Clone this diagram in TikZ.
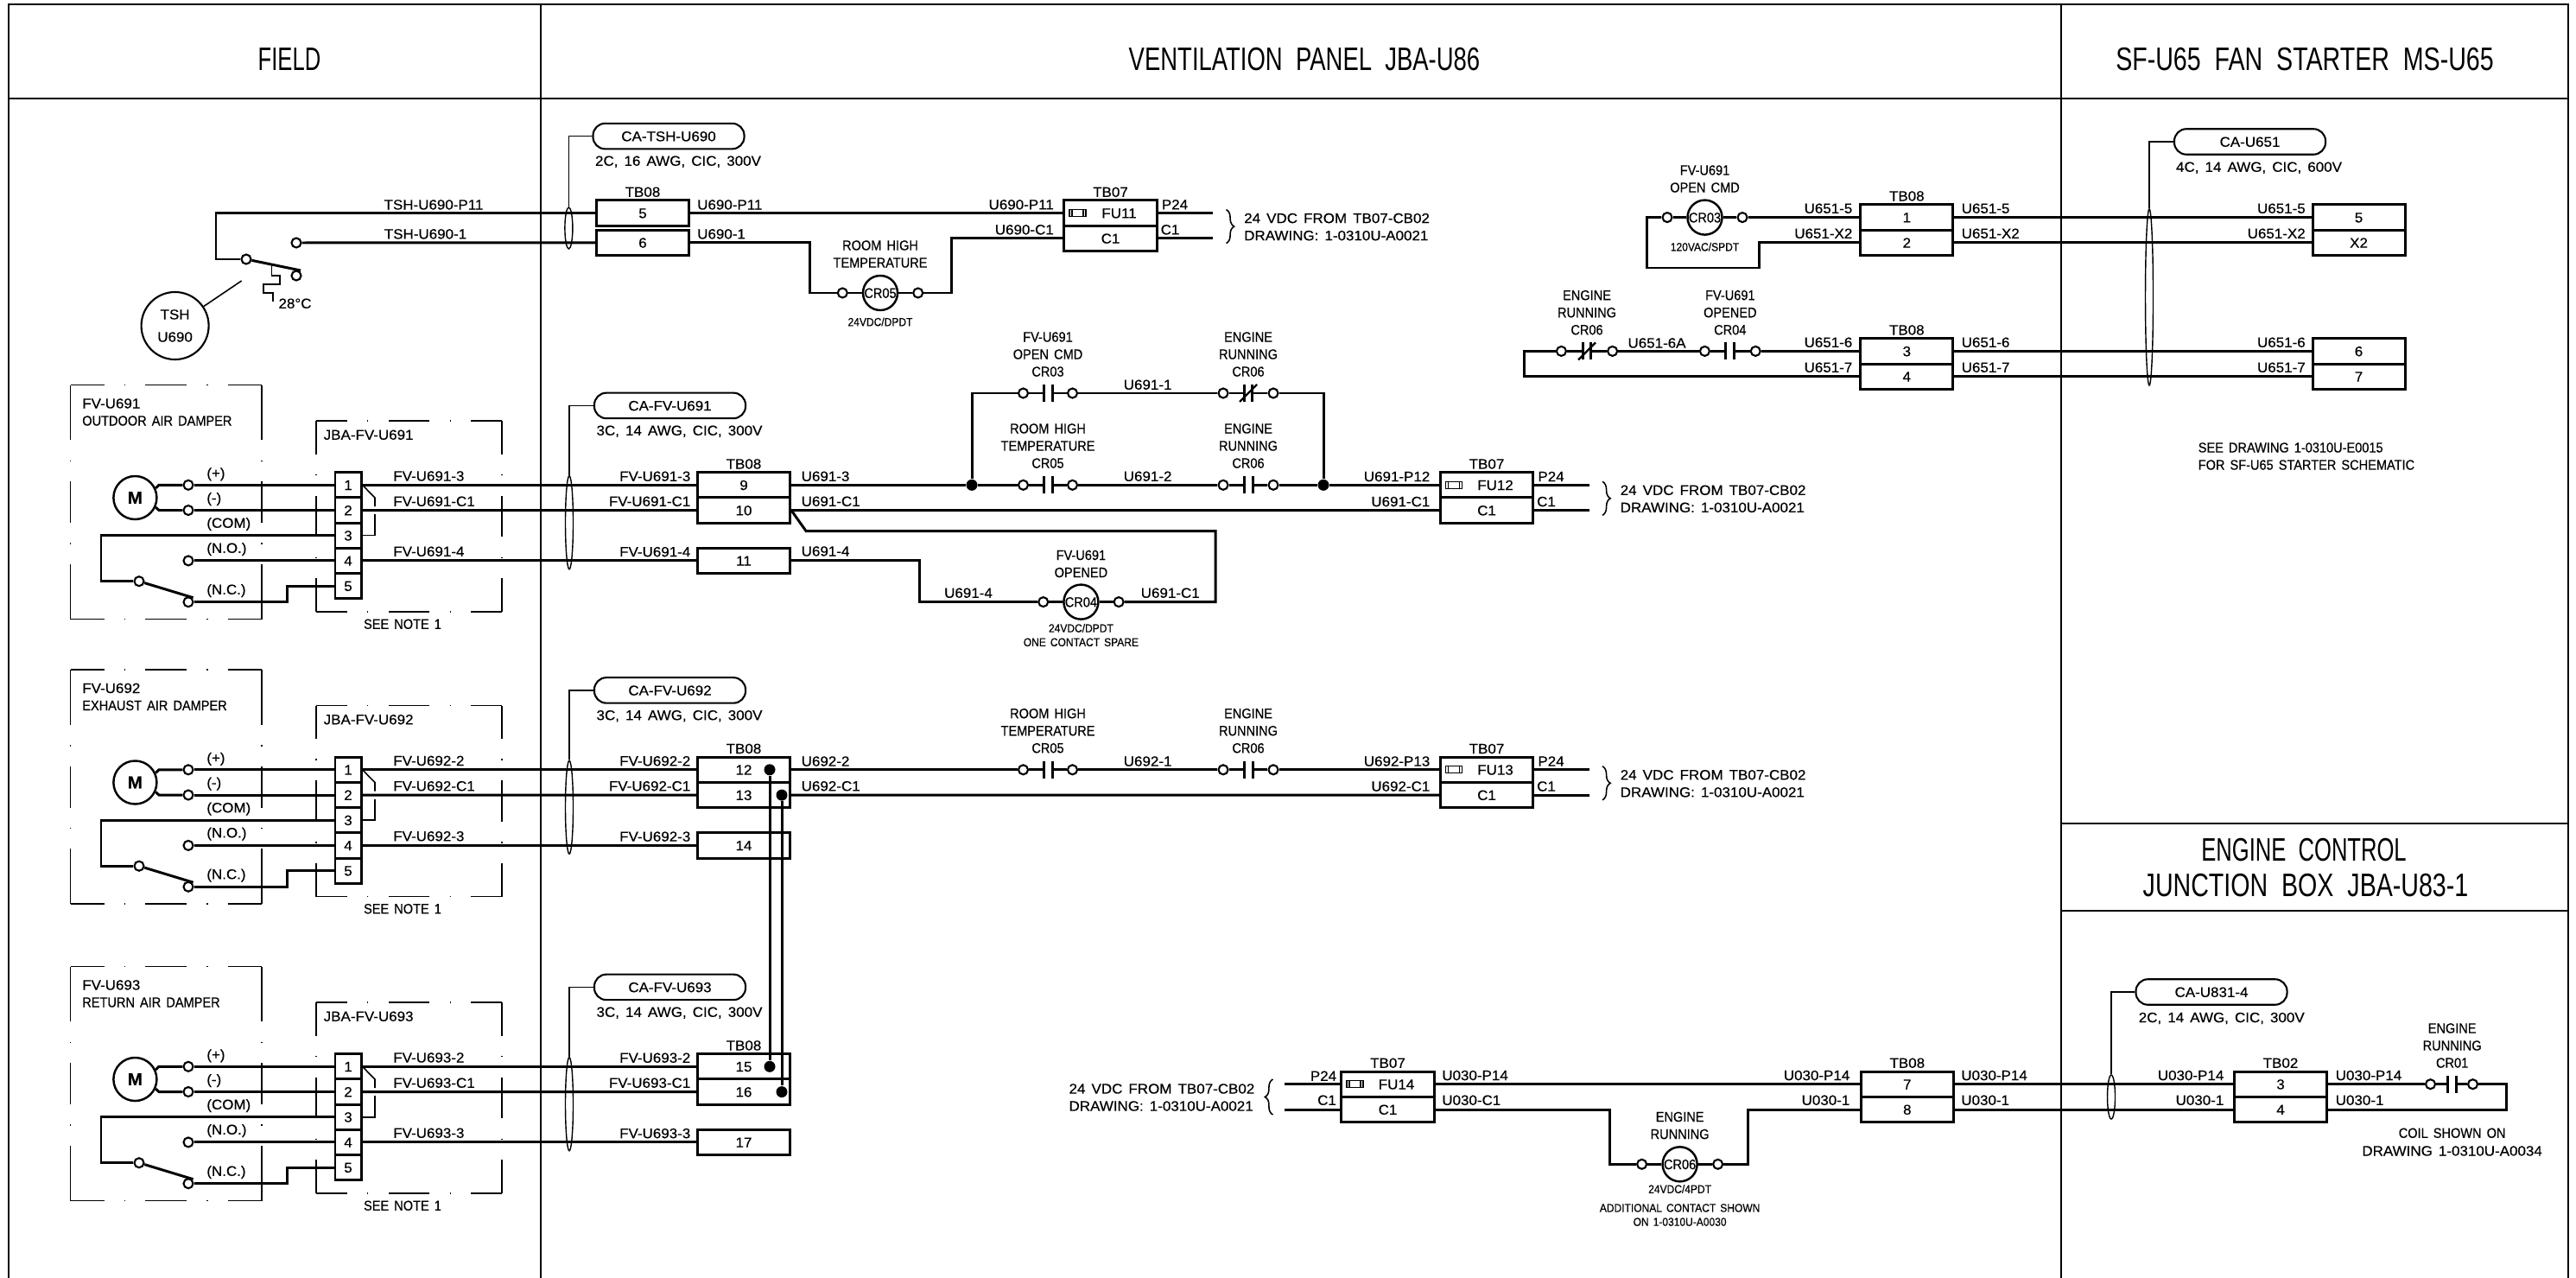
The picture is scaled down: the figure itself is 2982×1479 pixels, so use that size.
\documentclass[tikz,border=0pt]{standalone}
\usepackage{fontspec}
\setmainfont[FakeStretch=1.05,WordSpace=1.5,FakeBold=0.4]{Liberation Sans}
\newfontfamily\wordfont[FakeStretch=0.9,WordSpace=1.5,FakeBold=0.4]{Liberation Sans}
\newfontfamily\headfont[FakeStretch=0.76,WordSpace=2]{Liberation Sans}
\newfontfamily\headmid[FakeStretch=0.73,WordSpace=2]{Liberation Sans}
\newfontfamily\headnarrow[FakeStretch=0.68,WordSpace=2]{Liberation Sans}
\usepackage{tikz}
\usetikzlibrary{shapes.geometric, decorations.pathreplacing}

\tikzset{
  frame/.style={line width=0.7pt},
  wire/.style={line width=0.85pt},
  thinwire/.style={line width=0.45pt},
  head/.style={font=\headfont\fontsize{10.7}{11.6}\selectfont, inner sep=0pt, align=center},
  headm/.style={font=\headmid\fontsize{10.7}{11.6}\selectfont, inner sep=0pt, align=center},
  headn/.style={font=\headnarrow\fontsize{10.7}{11.6}\selectfont, inner sep=0pt, align=center},
  lab/.style={font=\fontsize{4.6}{5.7}\selectfont, inner sep=0pt, text height=3.3pt, text depth=0pt},
  wlab/.style={font=\wordfont\fontsize{4.6}{5.7}\selectfont, inner sep=0pt, text height=3.3pt, text depth=0pt},
  multi/.style={font=\fontsize{4.6}{5.7}\selectfont, inner sep=0pt, align=left},
  wmulti/.style={font=\wordfont\fontsize{4.6}{5.7}\selectfont, inner sep=0pt, align=center},
  smulti/.style={font=\wordfont\fontsize{3.8}{4.6}\selectfont, inner sep=0pt, align=center},
  term/.style={circle, draw, fill=white, line width=0.6pt, minimum size=0.11cm, inner sep=0pt},
  jdot/.style={circle, fill=black, minimum size=0.13cm, inner sep=0pt},
  coilnode/.style={circle, draw, line width=0.7pt, minimum size=0.4cm, inner sep=0pt,
    font=\wordfont\fontsize{4.6}{5.7}\selectfont, text height=3.3pt, text depth=0pt},
  motor/.style={circle, draw, line width=0.7pt, minimum size=0.5cm, inner sep=0pt,
    font=\bfseries\fontsize{5.6}{6}\selectfont},
  bubble/.style={circle, draw, line width=0.6pt, minimum size=0.78cm, inner sep=0pt, align=center,
    font=\fontsize{4.6}{7.4}\selectfont},
  tbbox/.style={rectangle, draw, line width=0.85pt, minimum width=1.07cm, minimum height=0.293cm, inner sep=0pt,
    font=\fontsize{4.6}{5.7}\selectfont, text height=3.3pt, text depth=0pt},
  pinbox/.style={rectangle, draw, line width=0.85pt, minimum width=0.3cm, minimum height=0.292cm, inner sep=0pt,
    font=\fontsize{4.6}{5.7}\selectfont, text height=3.3pt, text depth=0pt},
  fusemark/.style={rectangle, draw, line width=0.35pt, minimum width=0.19cm, minimum height=0.08cm, inner sep=0pt,
    path picture={
      \draw[line width=0.35pt] ([xshift=0.03cm]path picture bounding box.north west) -- ([xshift=0.03cm]path picture bounding box.south west)
        ([xshift=-0.03cm]path picture bounding box.north east) -- ([xshift=-0.03cm]path picture bounding box.south east);}},
  tagnode/.style={rectangle, draw, rounded corners=0.14cm, line width=0.6pt, minimum width=1.75cm, minimum height=0.295cm,
    inner sep=0pt, font=\fontsize{4.6}{5.7}\selectfont, text height=3.3pt, text depth=0pt},
  bundle/.style={ellipse, draw, line width=0.4pt, minimum width=0.09cm, inner sep=0pt},
  phantom/.style={line width=0.42pt, line cap=square, dash pattern=on 6.8pt off 6.6pt on 0.4pt off 6.6pt on 30pt off 30pt},
  bracemark/.style={line width=0.45pt, decorate, decoration={brace, amplitude=2.6pt}},
}

% normally open contact: name, x, y, half gap
\newcommand{\contactno}[4]{
  \begin{scope}[shift={(#2,#3)}]
    \node[term] (#1-l) at (-#4,0) {};
    \node[term] (#1-r) at (#4,0) {};
    \draw[wire] (#1-l) -- (-5,0) (5,0) -- (#1-r);
    \draw[wire] (-5,-10) -- (-5,10) (5,-10) -- (5,10);
  \end{scope}
}
% normally closed contact: name, x, y, half gap
\newcommand{\contactnc}[4]{
  \begin{scope}[shift={(#2,#3)}]
    \node[term] (#1-l) at (-#4,0) {};
    \node[term] (#1-r) at (#4,0) {};
    \draw[wire] (#1-l) -- (-4.5,0) (4.5,0) -- (#1-r);
    \draw[wire] (-4.5,-10) -- (-4.5,10) (4.5,-10) -- (4.5,10);
    \draw[line width=0.65pt] (-10,10) -- (10,-10);
  \end{scope}
}
% relay coil: name, x, y, text, half gap
\newcommand{\relaycoil}[5]{
  \begin{scope}[shift={(#2,#3)}]
    \node[coilnode] (#1) at (0,0) {#4};
    \node[term] (#1-l) at (-#5,0) {};
    \node[term] (#1-r) at (#5,0) {};
    \draw[wire] (#1-l) -- (#1) -- (#1-r);
  \end{scope}
}
% box in long dash, dot line, drawn from the middle of each side
\newcommand{\phantombox}[4]{
  \draw[phantom] ({(#1+#3)/2},#2) -- (#1,#2) ({(#1+#3)/2},#2) -- (#3,#2)
    ({(#1+#3)/2},#4) -- (#1,#4) ({(#1+#3)/2},#4) -- (#3,#4)
    (#1,{(#2+#4)/2}) -- (#1,#2) (#1,{(#2+#4)/2}) -- (#1,#4)
    (#3,{(#2+#4)/2}) -- (#3,#2) (#3,{(#2+#4)/2}) -- (#3,#4);
}

\begin{document}
\begin{tikzpicture}[x=0.01cm, y=-0.01cm]
  \useasboundingbox (0,0) rectangle (2982,1479);

  % Frame
  \draw[frame] (10,1479) -- (10,5) -- (2973,5) -- (2973,1479);
  \draw[frame] (10,114) -- (2973,114);
  \draw[frame] (626,5) -- (626,1479);
  \draw[frame] (2386,5) -- (2386,1479);
  \draw[frame] (2386,953) -- (2973,953);
  \draw[frame] (2386,1054) -- (2973,1054);

  % Headers
  \node[headn] (h-field) at (335,69) {FIELD};
  \node[headm] (h-panel) at (1510,69) {VENTILATION PANEL JBA-U86};
  \node[head] (h-fan) at (2668,69) {SF-U65 FAN STARTER MS-U65};
  \node[headn] (h-eng) at (2667,984) {ENGINE CONTROL};
  \node[head] (h-jb) at (2669,1025) {JUNCTION BOX JBA-U83-1};

  % Temperature switch
  \node[bubble] (tsh) at (202.6,377) {TSH\\U690};
  \node[term] (tsh-com) at (285,300) {};
  \node[term] (tsh-no) at (343,281) {};
  \node[term] (tsh-nc) at (343,319) {};
  \coordinate (tsh-blade) at (348,313);
  \node[lab] (tsh-deg) at (341.5,351) {28°C};
  \draw[wire] (tsh-com) -- (tsh-blade);
  \draw[thinwire] (tsh) -- (279.6,325);
  \draw[thinwire] (314.6,306) -- (314.6,319) -- (324,319) -- (324,329) -- (305,329) -- (305,339) -- (316,339) -- (316,348.6);

  % Cable TSH
  \node[tagnode] (ca-tsh) at (774,157.6) {CA-TSH-U690};
  \node[lab] (ca-tsh-t) at (785,186) {2C, 16 AWG, CIC, 300V};
  \node[bundle, minimum height=0.48cm] (el-tsh) at (658.4,264) {};
  \draw[thinwire] (ca-tsh.west) -| (el-tsh.north);

  \node[tbbox] (tb5) at (744,246.6) {5};
  \node[tbbox] (tb6) at (744,280.8) {6};
  \node[lab] (tb5-t) at (744,222) {TB08};
  \node[lab] (w-p11) at (502,236.7) {TSH-U690-P11};
  \node[lab] (w-1) at (492.5,270.6) {TSH-U690-1};
  \node[lab, anchor=west] (w-up11) at (806.5,236.7) {U690-P11};
  \node[lab, anchor=west] (w-u1) at (806.5,270.6) {U690-1};
  \draw[wire] (tb5.west) -- (250,246.6) |- (tsh-com);
  \draw[wire] (tsh-no) -- (tb6.west);

  % Room high temperature relay
  \relaycoil{cr05}{1019}{339}{CR05}{43.7}
  \node[wmulti] (cr05-t) at (1019,294) {ROOM HIGH\\TEMPERATURE};
  \node[smulti] (cr05-s) at (1019,372.5) {24VDC/DPDT};

  % Fuse blocks
  \foreach \f/\fx/\fy/\la/\lb in {11/1285.5/246.6/U690-P11/U690-C1,
      12/1721/561.3/U691-P12/U691-C1, 13/1721/890.8/U692-P13/U692-C1}{
    \begin{scope}[shift={(\fx,\fy)}]
      \node[tbbox] (fu\f) at (0,0) {\hspace*{0.2cm}FU\f};
      \node[tbbox] (cc\f) at (0,29.3) {C1};
      \node[fusemark] (fm\f) at (-38,0) {};
      \node[lab] (tb07-\f) at (0,-24.5) {TB07};
      \node[lab, anchor=east] (la\f) at (-65,-10) {\la};
      \node[lab, anchor=east] (lb\f) at (-65,19) {\lb};
      \node[lab] (pp\f) at (74.5,-10) {P24};
      \node[lab] (pc\f) at (69,19) {C1};
      \coordinate (end-p\f) at (118.5,0);
      \coordinate (end-c\f) at (118.5,29.3);
      \draw[wire] (fu\f.east) -- (end-p\f);
      \draw[wire] (cc\f.east) -- (end-c\f);
      \draw[bracemark] (134,-4) -- (134,35);
      \node[multi, anchor=west] (src\f) at (154,16) {24 VDC FROM TB07-CB02\\DRAWING: 1-0310U-A0021};
    \end{scope}
  }
  \draw[wire] (tb5.east) -- (fu11.west);
  \draw[wire] (tb6.east) -- (937,280.8) |- (cr05-l);
  \draw[wire] (cr05-r) -- (1101.5,339) |- (cc11.west);

  % Dampers
  \foreach \n/\dy/\dname/\wa/\wb/\ta/\tb/\tc in {
      U691/0/OUTDOOR AIR DAMPER/3/4/9/10/11,
      U692/329.5/EXHAUST AIR DAMPER/2/3/12/13/14,
      U693/673/RETURN AIR DAMPER/2/3/15/16/17}{
    \begin{scope}[shift={(0,\dy)}]
      \phantombox{81.5}{445.7}{303}{716.7}
      \phantombox{366}{487}{581}{708}
      \node[lab, anchor=west] (fv\n) at (94.6,466.7) {FV-\n};
      \node[wlab, anchor=west] (dn\n) at (94.6,486.7) {\dname};
      \node[lab, anchor=west] (jba\n) at (374,503) {JBA-FV-\n};
      \node[wlab] (note\n) at (466,722) {SEE NOTE 1};

      % Actuator
      \node[motor] (m\n) at (156.4,576) {M};
      \node[term] (tp\n) at (218,561.3) {};
      \node[term] (tm\n) at (218,590.5) {};
      \node[term] (tno\n) at (218,648.9) {};
      \node[term] (tnc\n) at (218,696.7) {};
      \node[term] (sw\n) at (161,672.7) {};
      \coordinate (bl\n) at (223.6,691.7);
      \node[lab, anchor=west] (lp\n) at (238.6,547.3) {(+)};
      \node[lab, anchor=west] (lm\n) at (238.6,576) {(-)};
      \node[lab, anchor=west] (lc\n) at (238.6,605) {(COM)};
      \node[lab, anchor=west] (lo\n) at (238.6,634) {(N.O.)};
      \node[lab, anchor=west] (ln\n) at (238.6,682) {(N.C.)};

      % Junction box terminals
      \foreach \p in {1,...,5}
        \node[pinbox] (jb\n-\p) at (403,{561.3+29.2*(\p-1)}) {\p};

      % Terminals on TB08
      \node[tbbox] (tb\ta) at (861,561.3) {\ta};
      \node[tbbox] (tb\tb) at (861,590.6) {\tb};
      \node[tbbox] (tb\tc) at (861,648.9) {\tc};
      \node[lab] (tb08\n) at (861,536.7) {TB08};

      % Cable
      \node[tagnode] (ca\n) at (775.5,469.4) {CA-FV-\n};
      \node[lab] (cat\n) at (786.5,498) {3C, 14 AWG, CIC, 300V};
      \node[bundle, minimum height=1.08cm] (el\n) at (659,604.7) {};
      \draw[thinwire] (ca\n.west) -| (el\n.north);

      % Wires
      \draw[wire] (m\n.25) -- (184,561.3) -- (tp\n);
      \draw[wire] (m\n.-25) -- (184,590.5) -- (tm\n);
      \draw[wire] (tp\n) -- (jb\n-1.west);
      \draw[wire] (tm\n) -- (jb\n-2.west);
      \draw[wire] (tno\n) -- (jb\n-4.west);
      \draw[wire] (jb\n-3.west) -- (117,619.7) |- (sw\n);
      \draw[wire] (sw\n) -- (bl\n);
      \draw[wire] (tnc\n) -- (332.5,696.7) |- (jb\n-5.west);
      \draw[wire] (jb\n-1.east) -- (tb\ta.west);
      \draw[wire] (jb\n-2.east) -- (tb\tb.west);
      \draw[wire] (jb\n-4.east) -- (tb\tc.west);
      \draw[thinwire] (jb\n-1.east) -- (434,576) -- (434,586);
      \draw[thinwire] (434,595) |- (jb\n-3.east);

      \node[lab, anchor=west] (wa\n) at (454.6,550.7) {FV-\n-\wa};
      \node[lab, anchor=west] (wb\n) at (454.6,580) {FV-\n-C1};
      \node[lab, anchor=west] (wc\n) at (454.6,638) {FV-\n-\wb};
      \node[lab, anchor=east] (ra\n) at (800,551) {FV-\n-\wa};
      \node[lab, anchor=east] (rb\n) at (800,580) {FV-\n-C1};
      \node[lab, anchor=east] (rc\n) at (800,638.4) {FV-\n-\wb};
    \end{scope}
  }

  % U691 control
  \node[jdot] (j1) at (1125,561.3) {};
  \node[jdot] (j2) at (1532,561.3) {};
  \contactno{cr03a}{1213}{455}{28.5}
  \contactnc{cr06a}{1445}{455}{29}
  \contactno{cr05a}{1213}{561.3}{28.5}
  \contactno{cr06b}{1445}{561.3}{29}
  \relaycoil{cr04}{1251.4}{696.6}{CR04}{43.7}
  \draw[wire] (tb9.east) -- (j1) -- (cr05a-l);
  \draw[wire] (cr05a-r) -- (cr06b-l);
  \draw[wire] (cr06b-r) -- (j2) -- (fu12.west);
  \draw[wire] (j1) |- (cr03a-l);
  \draw[wire] (cr03a-r) -- (cr06a-l);
  \draw[wire] (cr06a-r) -| (j2);
  \draw[wire] (tb10.east) -- (cc12.west);
  \draw[wire] (tb10.east) -- (933,614.5) -- (1407,614.5) |- (cr04-r);
  \draw[wire] (tb11.east) -- (1064,648.9) |- (cr04-l);
  \node[wmulti] (t-cr03a) at (1213,410) {FV-U691\\OPEN CMD\\CR03};
  \node[wmulti] (t-cr06a) at (1445,410) {ENGINE\\RUNNING\\CR06};
  \node[wmulti] (t-cr05a) at (1213,516) {ROOM HIGH\\TEMPERATURE\\CR05};
  \node[wmulti] (t-cr06b) at (1445,516) {ENGINE\\RUNNING\\CR06};
  \node[lab] (w-u6911) at (1328.6,445) {U691-1};
  \node[lab] (w-u6912) at (1328.6,551) {U691-2};
  \node[lab, anchor=west] (w-u6913) at (927,551) {U691-3};
  \node[lab, anchor=west] (w-u691c) at (927,580) {U691-C1};
  \node[lab, anchor=west] (w-u6914) at (927,637.7) {U691-4};
  \node[lab] (w-u6914b) at (1121,686) {U691-4};
  \node[lab] (w-u691cb) at (1354.7,686) {U691-C1};
  \node[wmulti] (t-cr04) at (1251.4,652.5) {FV-U691\\OPENED};
  \node[smulti] (s-cr04) at (1251.4,735) {24VDC/DPDT\\ONE CONTACT SPARE};

  % U692 control
  \contactno{cr05b}{1213}{890.8}{28.5}
  \contactno{cr06c}{1445}{890.8}{29}
  \draw[wire] (tb12.east) -- (cr05b-l);
  \draw[wire] (cr05b-r) -- (cr06c-l);
  \draw[wire] (cr06c-r) -- (fu13.west);
  \draw[wire] (tb13.east) -- (cc13.west);
  \node[wmulti] (t-cr05b) at (1213,845.7) {ROOM HIGH\\TEMPERATURE\\CR05};
  \node[wmulti] (t-cr06c) at (1445,845.7) {ENGINE\\RUNNING\\CR06};
  \node[lab] (w-u6921) at (1328.6,880.8) {U692-1};
  \node[lab, anchor=west] (w-u6922) at (927,880.8) {U692-2};
  \node[lab, anchor=west] (w-u692c) at (927,909.5) {U692-C1};

  % Jumpers between TB08 terminals
  \node[jdot] (d12) at (891,890.8) {};
  \node[jdot] (d13) at (905,920.1) {};
  \node[jdot] (d15) at (891,1234.3) {};
  \node[jdot] (d16) at (905,1263.6) {};
  \draw[wire] (d12) -- (d15);
  \draw[wire] (d13) -- (d16);

  % U651
  \node[tagnode] (ca-u651) at (2604.5,164) {CA-U651};
  \node[lab] (ca-u651-t) at (2615,193) {4C, 14 AWG, CIC, 600V};
  \node[bundle, minimum height=2.04cm] (el-u651) at (2488,343.9) {};
  \draw[thinwire] (ca-u651.west) -| (el-u651.north);
  \node[tbbox] (tb1) at (2207.3,251.6) {1};
  \node[tbbox] (tb2) at (2207.3,280.9) {2};
  \node[tbbox] (tb3) at (2207.3,406.4) {3};
  \node[tbbox] (tb4) at (2207.3,435.7) {4};
  \node[tbbox] (ms5) at (2730.5,251.6) {5};
  \node[tbbox] (msx2) at (2730.5,280.9) {X2};
  \node[tbbox] (ms6) at (2730.5,406.4) {6};
  \node[tbbox] (ms7) at (2730.5,435.7) {7};
  \node[lab] (tb1-t) at (2207.3,226.7) {TB08};
  \node[lab] (tb3-t) at (2207.3,381.7) {TB08};
  \relaycoil{cr03}{1973.5}{251.6}{CR03}{43.5}
  \contactnc{cr06d}{1837}{406.4}{29.6}
  \contactno{cr04b}{2002.8}{406.4}{29.4}
  \draw[wire] (tb1.east) -- (ms5.west);
  \draw[wire] (tb2.east) -- (msx2.west);
  \draw[wire] (tb3.east) -- (ms6.west);
  \draw[wire] (tb4.east) -- (ms7.west);
  \draw[wire] (cr03-r) -- (tb1.west);
  \draw[wire] (tb2.west) -- (2036,280.9) -- (2036,310) -- (1906.4,310) |- (cr03-l);
  \draw[wire] (tb4.west) -- (1764,435.7) |- (cr06d-l);
  \draw[wire] (cr06d-r) -- (cr04b-l);
  \draw[wire] (cr04b-r) -- (tb3.west);
  \node[wmulti] (t-cr03) at (1973.5,207) {FV-U691\\OPEN CMD};
  \node[smulti] (s-cr03) at (1973.5,285.7) {120VAC/SPDT};
  \node[wmulti] (t-cr06d) at (1837,361.7) {ENGINE\\RUNNING\\CR06};
  \node[wmulti] (t-cr04b) at (2002.8,361.7) {FV-U691\\OPENED\\CR04};
  \node[lab] (w-6a) at (1918,396.7) {U651-6A};
  \foreach \na/\ny/\nt in {a/241/U651-5, b/270/U651-X2, c/396/U651-6, d/425/U651-7}{
    \node[lab, anchor=east] (ul\na) at (2145,\ny) {\nt};
    \node[lab, anchor=west] (um\na) at (2270,\ny) {\nt};
    \node[lab, anchor=east] (ur\na) at (2669.4,\ny) {\nt};
  }
  \node[wmulti, align=left, anchor=west] (see-e15) at (2544,528) {SEE DRAWING 1-0310U-E0015\\FOR SF-U65 STARTER SCHEMATIC};

  % U030
  \node[tbbox] (fu14) at (1606.5,1254.7) {\hspace*{0.2cm}FU14};
  \node[tbbox] (cc14) at (1606.5,1284) {C1};
  \node[fusemark] (fm14) at (1568.5,1254.7) {};
  \node[tbbox] (tb7) at (2207.8,1254.7) {7};
  \node[tbbox] (tb8) at (2207.8,1284) {8};
  \node[tbbox] (tbb3) at (2640,1254.7) {3};
  \node[tbbox] (tbb4) at (2640,1284) {4};
  \node[lab] (tb07-14) at (1606.5,1230) {TB07};
  \node[lab] (tb7-t) at (2207.8,1230) {TB08};
  \node[lab] (tbb3-t) at (2640,1230) {TB02};
  \coordinate (end-p14) at (1487,1254.7);
  \coordinate (end-c14) at (1487,1284);
  \relaycoil{cr06}{1944.6}{1347.3}{CR06}{44}
  \contactno{cr01}{2838}{1254.7}{24.5}
  \node[tagnode] (ca-u831) at (2560,1148) {CA-U831-4};
  \node[lab] (ca-u831-t) at (2571.7,1177.3) {2C, 14 AWG, CIC, 300V};
  \node[bundle, minimum height=0.51cm] (el-u831) at (2444,1269.5) {};
  \draw[thinwire] (ca-u831.west) -| (el-u831.north);
  \draw[wire] (end-p14) -- (fu14.west);
  \draw[wire] (end-c14) -- (cc14.west);
  \draw[wire] (fu14.east) -- (tb7.west);
  \draw[wire] (cc14.east) -- (1863.6,1284) |- (cr06-l);
  \draw[wire] (cr06-r) -- (2023,1347.3) |- (tb8.west);
  \draw[wire] (tb7.east) -- (tbb3.west);
  \draw[wire] (tb8.east) -- (tbb4.west);
  \draw[wire] (tbb3.east) -- (cr01-l);
  \draw[wire] (cr01-r) -- (2901,1254.7) |- (tbb4.east);
  \draw[bracemark] (1473.5,1290) -- (1473.5,1249);
  \node[multi, anchor=east] (src14) at (1453,1270) {24 VDC FROM TB07-CB02\\DRAWING: 1-0310U-A0021};
  \node[lab] (p-14) at (1532,1245) {P24};
  \node[lab] (c-14) at (1536,1273) {C1};
  \node[lab, anchor=west] (up14a) at (1668.6,1244.3) {U030-P14};
  \node[lab, anchor=west] (uc14a) at (1668.6,1273) {U030-C1};
  \node[lab, anchor=east] (up14b) at (2142,1244.3) {U030-P14};
  \node[lab, anchor=east] (u1b) at (2142,1273) {U030-1};
  \node[lab, anchor=west] (up14c) at (2269.6,1244.3) {U030-P14};
  \node[lab, anchor=west] (u1c) at (2269.6,1273) {U030-1};
  \node[lab, anchor=east] (up14d) at (2575,1244.3) {U030-P14};
  \node[lab, anchor=east] (u1d) at (2575,1273) {U030-1};
  \node[lab, anchor=west] (up14e) at (2703,1244.3) {U030-P14};
  \node[lab, anchor=west] (u1e) at (2703,1273) {U030-1};
  \node[wmulti] (t-cr06) at (1944.6,1302.5) {ENGINE\\RUNNING};
  \node[smulti] (s-cr06) at (1944.6,1376) {24VDC/4PDT};
  \node[smulti] (s-add) at (1944.6,1406) {ADDITIONAL CONTACT SHOWN\\ON 1-0310U-A0030};
  \node[wmulti] (t-cr01) at (2838.6,1210) {ENGINE\\RUNNING\\CR01};
  \node[wlab] (t-coil) at (2838.6,1311) {COIL SHOWN ON};
  \node[lab] (t-dwg) at (2838.6,1331.7) {DRAWING 1-0310U-A0034};
\end{tikzpicture}
\end{document}
